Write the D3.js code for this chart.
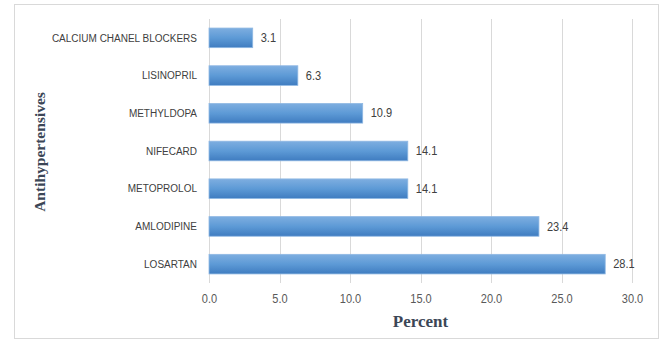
<!DOCTYPE html>
<html>
<head>
<meta charset="utf-8">
<script src="https://cdn.jsdelivr.net/npm/d3@7"></script>
<style>
  html, body { margin: 0; padding: 0; background: #fff; }
  svg { display: block; }
</style>
</head>
<body>
<svg id="chart" width="665" height="343"></svg>
<script>
// Antihypertensive drugs and the share of patients using each (percent)
const categories = ["CALCIUM CHANEL BLOCKERS", "LISINOPRIL", "METHYLDOPA", "NIFECARD", "METOPROLOL", "AMLODIPINE", "LOSARTAN"];
const percents = [3.1, 6.3, 10.9, 14.1, 14.1, 23.4, 28.1];
const xTicks = [0, 5, 10, 15, 20, 25, 30];
const xTitle = "Percent";
const yTitle = "Antihypertensives";

const svg = d3.select("#chart");
const plot = { left: 209, right: 632, top: 19, bottom: 283 };
const sans = "'Liberation Sans', Arial, sans-serif";
const serif = "'Liberation Serif', 'Times New Roman', serif";

// outer frame
svg.append("rect")
  .attr("x", 14.5).attr("y", 4.5)
  .attr("width", 644).attr("height", 334)
  .attr("fill", "#fff").attr("stroke", "#d9d9d9").attr("stroke-width", 1);

// bar gradient
const defs = svg.append("defs");
const grad = defs.append("linearGradient")
  .attr("id", "barFill").attr("x1", 0).attr("y1", 0).attr("x2", 0).attr("y2", 1);
grad.append("stop").attr("offset", "0%").attr("stop-color", "#7eaee0");
grad.append("stop").attr("offset", "50%").attr("stop-color", "#5d9ad6");
grad.append("stop").attr("offset", "100%").attr("stop-color", "#3f7cc0");

const x = d3.scaleLinear().domain([0, 30]).range([plot.left, plot.right]);
const y = d3.scaleBand().domain(categories).range([plot.top, plot.bottom]).paddingInner(0.48).paddingOuter(0.24);

// vertical gridlines
svg.append("g").selectAll("line").data(xTicks).join("line")
  .attr("x1", d => Math.round(x(d)) + 0.5).attr("x2", d => Math.round(x(d)) + 0.5)
  .attr("y1", plot.top).attr("y2", plot.bottom)
  .attr("stroke", "#d9d9d9").attr("stroke-width", 1);

// x tick labels
const xAxis = d3.axisBottom(x).tickValues(xTicks).tickFormat(d3.format(".1f")).tickSize(0).tickPadding(0);
const gx = svg.append("g").attr("transform", `translate(0,${plot.bottom + 11})`).call(xAxis);
gx.select(".domain").remove();
gx.selectAll("text")
  .attr("dy", "0.71em")
  .attr("fill", "#595959")
  .attr("transform", "scale(0.92,1)")
  .style("font-family", sans)
  .style("font-size", "12px");

// y category labels, horizontally condensed
const yAxis = d3.axisLeft(y).tickSize(0).tickPadding(0);
const gy = svg.append("g").attr("transform", `translate(${plot.left - 12},0)`).call(yAxis);
gy.select(".domain").remove();
gy.selectAll("text")
  .attr("fill", "#404040")
  .attr("transform", "scale(0.87,1)")
  .style("font-family", sans)
  .style("font-size", "11.5px");

// bars
svg.append("g").selectAll("rect").data(categories).join("rect")
  .attr("x", x(0))
  .attr("y", d => y(d))
  .attr("width", (d, i) => x(percents[i]) - x(0))
  .attr("height", y.bandwidth())
  .attr("fill", "url(#barFill)")
  .attr("stroke", "#8fb8e3").attr("stroke-width", 0.8);

// value labels
svg.append("g").selectAll("g").data(categories).join("g")
  .attr("transform", (d, i) => `translate(${x(percents[i]) + 8},${y(d) + y.bandwidth() / 2})`)
  .append("text")
  .attr("dy", "0.35em")
  .attr("transform", "scale(0.92,1)")
  .attr("fill", "#404040")
  .style("font-family", sans)
  .style("font-size", "12px")
  .text((d, i) => d3.format(".1f")(percents[i]));

// axis titles
svg.append("text")
  .attr("x", (plot.left + plot.right) / 2).attr("y", 327)
  .attr("text-anchor", "middle")
  .attr("fill", "#3b4656")
  .style("font-family", serif).style("font-weight", "bold").style("font-size", "17px")
  .text(xTitle);

svg.append("text")
  .attr("transform", "translate(45,152) rotate(-90)")
  .attr("text-anchor", "middle")
  .attr("fill", "#3b4656")
  .style("font-family", serif).style("font-weight", "bold").style("font-size", "15.5px")
  .text(yTitle);
</script>
</body>
</html>
